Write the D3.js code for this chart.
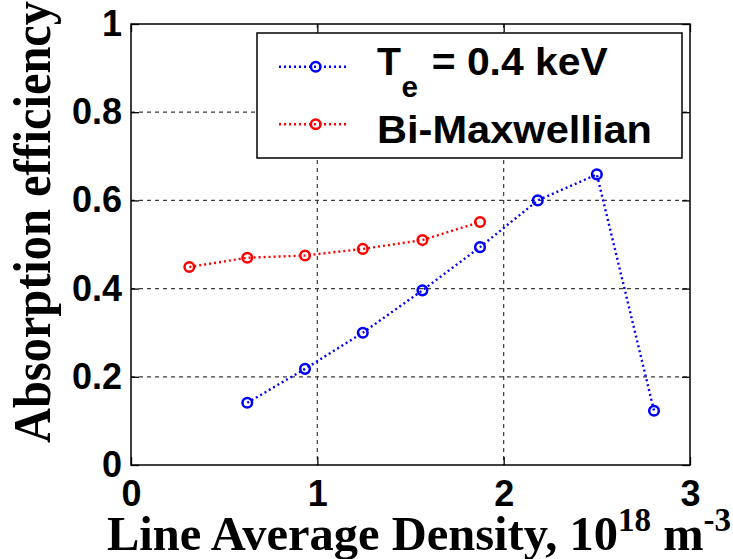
<!DOCTYPE html>
<html>
<head>
<meta charset="utf-8">
<script src="https://cdn.jsdelivr.net/npm/d3@7"></script>
<style>
  html, body { margin: 0; padding: 0; background: #fff; }
  svg { display: block; }
</style>
</head>
<body>
<svg id="chart" width="733" height="559"></svg>
<script>
// ---- data ----
const densityTe = [0.624, 0.934, 1.244, 1.564, 1.873, 2.183, 2.50, 2.807];
const effTe     = [0.141, 0.218, 0.300, 0.396, 0.494, 0.600, 0.659, 0.123];
const densityBi = [0.313, 0.624, 0.934, 1.244, 1.564, 1.873];
const effBi     = [0.449, 0.470, 0.475, 0.490, 0.510, 0.551];
const xTicks = [0, 1, 2, 3];
const yTicks = [0, 0.2, 0.4, 0.6, 0.8, 1];
const xTickLabels = ["0", "1", "2", "3"];
const yTickLabels = ["0", "0.2", "0.4", "0.6", "0.8", "1"];
const seriesNames = ["Te = 0.4 keV", "Bi-Maxwellian"];
const seriesColors = ["#0000ff", "#ff0000"];

// ---- layout ----
const L = 131, R = 690, T = 24, B = 465;
const svg = d3.select("#chart");
const x = d3.scaleLinear().domain([0, 3]).range([L, R]);
const y = d3.scaleLinear().domain([0, 1]).range([B, T]);
const tickFont = "'Liberation Sans', Arial, Helvetica, sans-serif";
const serif = "'Liberation Serif', 'Times New Roman', Times, serif";

// grid
const grid = svg.append("g").attr("stroke", "#3a3a3a").attr("stroke-width", 1.2)
  .attr("stroke-dasharray", "4,4");
grid.selectAll("line.gx").data(xTicks.filter(v => v > 0 && v < 3)).join("line")
  .attr("x1", d => x(d)).attr("x2", d => x(d)).attr("y1", T).attr("y2", B);
grid.selectAll("line.gy").data(yTicks.filter(v => v > 0 && v < 1)).join("line")
  .attr("x1", L).attr("x2", R).attr("y1", d => y(d)).attr("y2", d => y(d));

// axes
function styleAxis(g, showLabels) {
  g.select(".domain").remove();
  g.selectAll(".tick line").attr("stroke", "#000").attr("stroke-width", 1.3);
  g.selectAll(".tick text")
    .attr("font-family", tickFont).attr("font-weight", "bold")
    .attr("font-size", 36).attr("fill", "#000");
  if (!showLabels) g.selectAll(".tick text").remove();
}
svg.append("g").attr("transform", `translate(0,${B})`)
  .call(d3.axisBottom(x).tickValues(xTicks).tickFormat((d, i) => xTickLabels[i]).tickSize(-8).tickPadding(15))
  .call(g => styleAxis(g, true));
svg.append("g").attr("transform", `translate(${L},0)`)
  .call(d3.axisLeft(y).tickValues(yTicks).tickFormat((d, i) => yTickLabels[i]).tickSize(-8).tickPadding(9))
  .call(g => styleAxis(g, true));
svg.append("g").attr("transform", `translate(0,${T})`)
  .call(d3.axisTop(x).tickValues(xTicks).tickSize(-8))
  .call(g => styleAxis(g, false));
svg.append("g").attr("transform", `translate(${R},0)`)
  .call(d3.axisRight(y).tickValues(yTicks).tickSize(-8))
  .call(g => styleAxis(g, false));

// frame
svg.append("rect").attr("x", L).attr("y", T).attr("width", R - L).attr("height", B - T)
  .attr("fill", "none").attr("stroke", "#000").attr("stroke-width", 1.5);

// series
const series = [
  { xs: densityTe, ys: effTe, color: seriesColors[0] },
  { xs: densityBi, ys: effBi, color: seriesColors[1] }
];
const line = d3.line().x(d => x(d[0])).y(d => y(d[1]));
series.forEach(s => {
  const pts = s.xs.map((v, i) => [v, s.ys[i]]);
  svg.append("path").datum(pts).attr("d", line)
    .attr("fill", "none").attr("stroke", s.color).attr("stroke-width", 2.4)
    .attr("stroke-dasharray", "2,3");
  svg.append("g").selectAll("circle").data(pts).join("circle")
    .attr("cx", d => x(d[0])).attr("cy", d => y(d[1])).attr("r", 4.8)
    .attr("fill", "none").attr("stroke", s.color).attr("stroke-width", 2.5);
});

// legend
const lg = svg.append("g");
lg.append("rect").attr("x", 257).attr("y", 33).attr("width", 425).attr("height", 125)
  .attr("fill", "#fff").attr("stroke", "#000").attr("stroke-width", 1.5);
const rows = [66.7, 124.3];
rows.forEach((ry, i) => {
  lg.append("line").attr("x1", 279).attr("x2", 348).attr("y1", ry).attr("y2", ry)
    .attr("stroke", seriesColors[i]).attr("stroke-width", 2.4).attr("stroke-dasharray", "2,3");
  lg.append("circle").attr("cx", 315.7).attr("cy", ry).attr("r", 4.8)
    .attr("fill", "none").attr("stroke", seriesColors[i]).attr("stroke-width", 2.5);
});
const legendText = (tx, ty, size, str, len) => {
  const t = lg.append("text").attr("x", tx).attr("y", ty)
    .attr("font-family", tickFont).attr("font-weight", "bold")
    .attr("font-size", size).attr("fill", "#000").text(str);
  if (len) t.attr("textLength", len).attr("lengthAdjust", "spacingAndGlyphs");
  return t;
};
legendText(377, 75, 38, "T", 24);
legendText(401.5, 96.7, 29, "e", 16.5);
legendText(431.7, 75, 38, "= 0.4 keV", 176);
legendText(377, 142.7, 38, seriesNames[1], 275);

// x-axis title
const xt = svg.append("text").attr("x", 107).attr("y", 550)
  .attr("font-family", serif).attr("font-weight", "bold").attr("font-size", 48.5).attr("fill", "#000");
xt.append("tspan").text("Line Average Density, 10");
xt.append("tspan").attr("font-size", 33).attr("dy", -19).text("18");
xt.append("tspan").attr("dy", 19).text(" m");
xt.append("tspan").attr("font-size", 33).attr("dy", -19).text("-3");

// y-axis title
svg.append("text").attr("transform", "translate(50,222) rotate(-90)")
  .attr("text-anchor", "middle")
  .attr("font-family", serif).attr("font-weight", "bold").attr("font-size", 52).attr("fill", "#000")
  .attr("textLength", 442).attr("lengthAdjust", "spacingAndGlyphs")
  .text("Absorption efficiency");
</script>
</body>
</html>
